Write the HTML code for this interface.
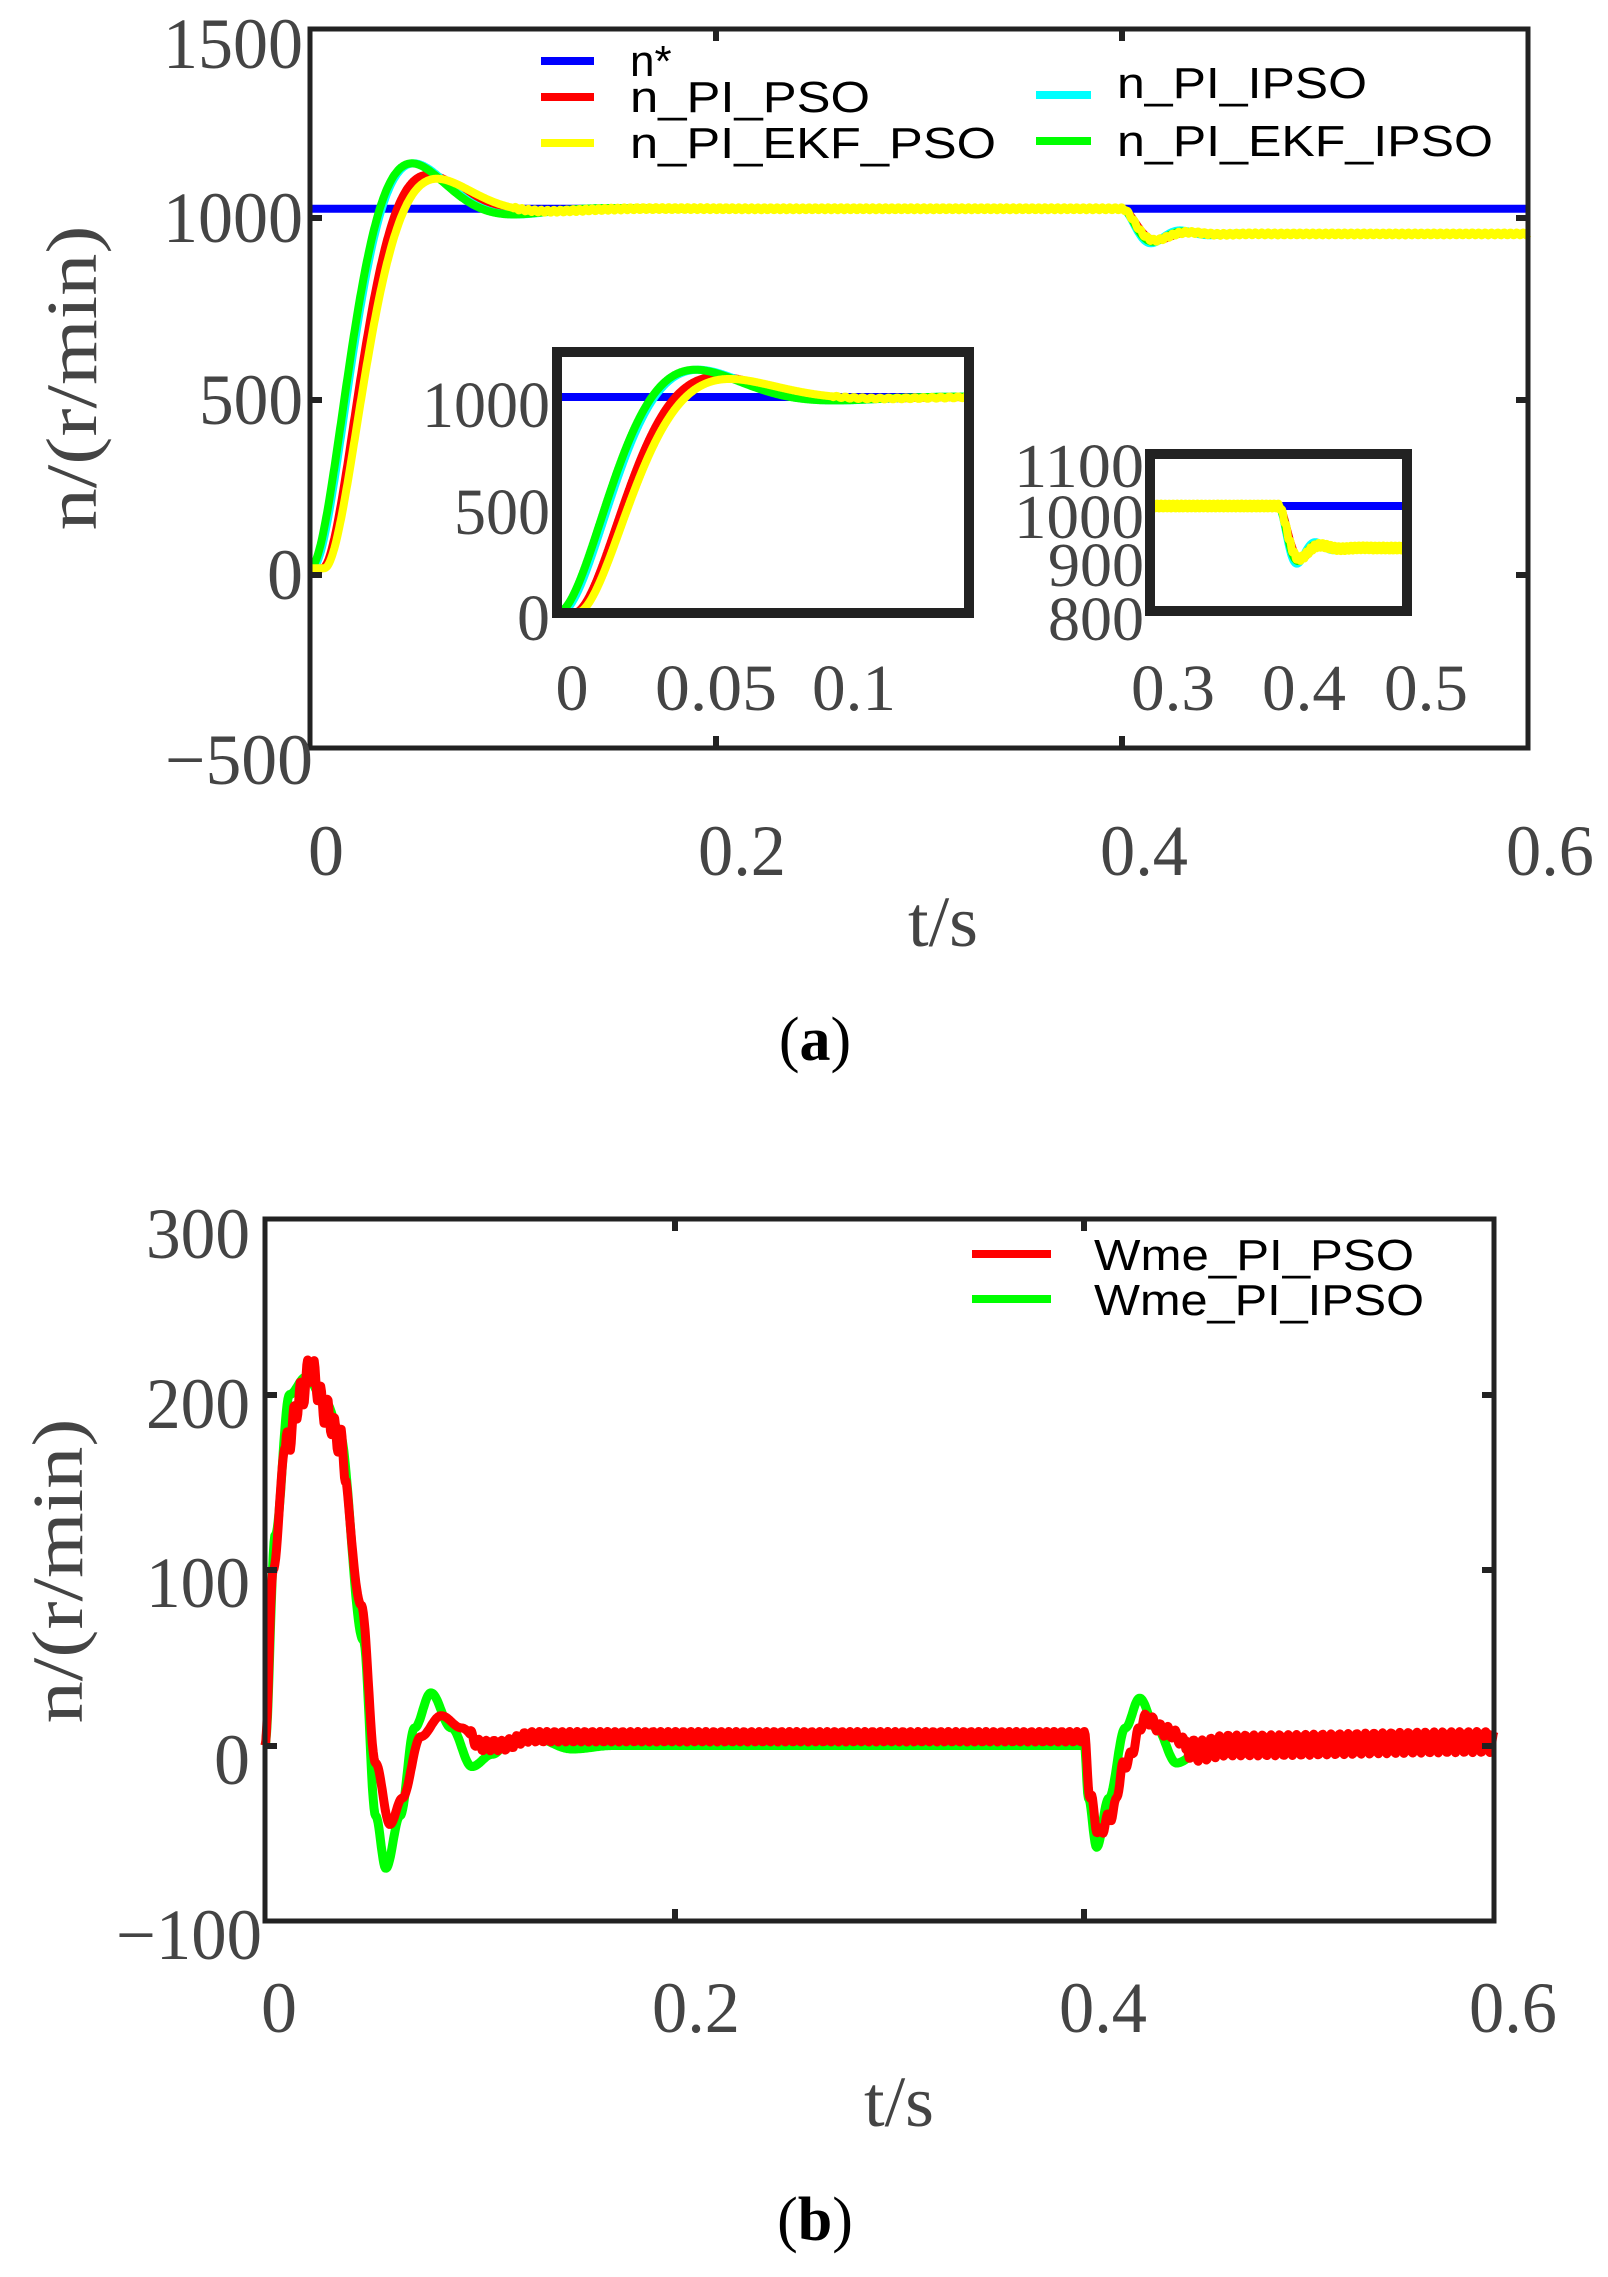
<!DOCTYPE html>
<html><head><meta charset="utf-8"><style>
html,body{margin:0;padding:0;background:#fff;}
svg{display:block;}
.t{font-family:"Liberation Serif",serif;fill:#444;}
.l{font-family:"Liberation Sans",sans-serif;fill:#000;}
</style></head><body>
<svg id="s" width="1608" height="2277" viewBox="0 0 1608 2277" xmlns="http://www.w3.org/2000/svg">
<rect width="1608" height="2277" fill="#fff"/>
<g id="a"></g>
<rect x="310" y="29" width="1218" height="719" fill="none" stroke="#222" stroke-width="5"/>
<g stroke="#222" stroke-width="6">
<line x1="310" y1="400" x2="322" y2="400"/><line x1="1516" y1="400" x2="1528" y2="400"/>
<line x1="310" y1="218" x2="322" y2="218"/><line x1="1516" y1="218" x2="1528" y2="218"/>
<line x1="310" y1="575" x2="322" y2="575"/><line x1="1516" y1="575" x2="1528" y2="575"/>
<line x1="716" y1="29" x2="716" y2="41"/><line x1="716" y1="736" x2="716" y2="748"/>
<line x1="1122" y1="29" x2="1122" y2="41"/><line x1="1122" y1="736" x2="1122" y2="748"/>
</g>
<g class="t" font-size="72" text-anchor="end">
<text x="303" y="68" textLength="140" lengthAdjust="spacingAndGlyphs">1500</text>
<text x="303" y="242" textLength="140" lengthAdjust="spacingAndGlyphs">1000</text>
<text x="303" y="424" textLength="104" lengthAdjust="spacingAndGlyphs">500</text>
<text x="303" y="599" textLength="36" lengthAdjust="spacingAndGlyphs">0</text>
<text x="313" y="784" textLength="148" lengthAdjust="spacingAndGlyphs">−500</text>
</g>
<g class="t" font-size="72" text-anchor="middle">
<text x="326" y="875">0</text>
<text x="742" y="875" textLength="88" lengthAdjust="spacingAndGlyphs">0.2</text>
<text x="1144" y="875" textLength="88" lengthAdjust="spacingAndGlyphs">0.4</text>
<text x="1550" y="875" textLength="88" lengthAdjust="spacingAndGlyphs">0.6</text>
<text x="943" y="946" textLength="70" lengthAdjust="spacingAndGlyphs">t/s</text>
<text x="815" y="1060" font-size="62" fill="#000">(<tspan font-weight="bold">a</tspan>)</text>
<text transform="translate(96,378) rotate(-90)" textLength="305" lengthAdjust="spacingAndGlyphs">n/(r/min)</text>
</g>
<g stroke-width="8">
<line x1="541" y1="61" x2="594" y2="61" stroke="#0000ff"/>
<line x1="541" y1="97" x2="594" y2="97" stroke="#ff0000"/>
<line x1="541" y1="143" x2="594" y2="143" stroke="#ffff00"/>
<line x1="1036" y1="95" x2="1091" y2="95" stroke="#00ffff"/>
<line x1="1036" y1="141" x2="1091" y2="141" stroke="#00ff00"/>
</g>
<g class="l" font-size="44">
<text x="630" y="76">n*</text>
<text x="630" y="112" textLength="240" lengthAdjust="spacingAndGlyphs">n_PI_PSO</text>
<text x="630" y="158" textLength="366" lengthAdjust="spacingAndGlyphs">n_PI_EKF_PSO</text>
<text x="1117" y="98" textLength="250" lengthAdjust="spacingAndGlyphs">n_PI_IPSO</text>
<text x="1117" y="156" textLength="376" lengthAdjust="spacingAndGlyphs">n_PI_EKF_IPSO</text>
</g>
<rect x="557" y="352" width="412" height="261" fill="#fff"/>
<g id="i1"></g>
<rect x="557" y="352" width="412" height="261" fill="none" stroke="#222" stroke-width="10"/>
<g class="t" font-size="66" text-anchor="end">
<text x="550" y="427" textLength="128" lengthAdjust="spacingAndGlyphs">1000</text>
<text x="550" y="534" textLength="96" lengthAdjust="spacingAndGlyphs">500</text>
<text x="550" y="640">0</text>
</g>
<g class="t" font-size="66" text-anchor="middle">
<text x="572" y="710">0</text>
<text x="716" y="710" textLength="122" lengthAdjust="spacingAndGlyphs">0.05</text>
<text x="854" y="710" textLength="84" lengthAdjust="spacingAndGlyphs">0.1</text>
</g>
<rect x="1150" y="454" width="257" height="157" fill="#fff"/>
<g id="i2"></g>
<rect x="1150" y="454" width="257" height="157" fill="none" stroke="#222" stroke-width="10"/>
<g class="t" font-size="62" text-anchor="end">
<text x="1144" y="487" textLength="130" lengthAdjust="spacingAndGlyphs">1100</text>
<text x="1144" y="538" textLength="130" lengthAdjust="spacingAndGlyphs">1000</text>
<text x="1144" y="586" textLength="96" lengthAdjust="spacingAndGlyphs">900</text>
<text x="1144" y="640" textLength="96" lengthAdjust="spacingAndGlyphs">800</text>
</g>
<g class="t" font-size="66" text-anchor="middle">
<text x="1173" y="710" textLength="84" lengthAdjust="spacingAndGlyphs">0.3</text>
<text x="1304" y="710" textLength="84" lengthAdjust="spacingAndGlyphs">0.4</text>
<text x="1426" y="710" textLength="84" lengthAdjust="spacingAndGlyphs">0.5</text>
</g>

<g id="b"></g>
<rect x="265" y="1219" width="1229" height="702" fill="none" stroke="#222" stroke-width="5"/>
<g stroke="#222" stroke-width="6">
<line x1="265" y1="1395" x2="277" y2="1395"/><line x1="1482" y1="1395" x2="1494" y2="1395"/>
<line x1="265" y1="1570" x2="277" y2="1570"/><line x1="1482" y1="1570" x2="1494" y2="1570"/>
<line x1="265" y1="1746" x2="277" y2="1746"/><line x1="1482" y1="1746" x2="1494" y2="1746"/>
<line x1="675" y1="1219" x2="675" y2="1231"/><line x1="675" y1="1909" x2="675" y2="1921"/>
<line x1="1084" y1="1219" x2="1084" y2="1231"/><line x1="1084" y1="1909" x2="1084" y2="1921"/>
</g>
<g class="t" font-size="72" text-anchor="end">
<text x="250" y="1258" textLength="104" lengthAdjust="spacingAndGlyphs">300</text>
<text x="250" y="1428" textLength="104" lengthAdjust="spacingAndGlyphs">200</text>
<text x="250" y="1607" textLength="104" lengthAdjust="spacingAndGlyphs">100</text>
<text x="250" y="1784">0</text>
<text x="262" y="1959" textLength="146" lengthAdjust="spacingAndGlyphs">−100</text>
</g>
<g class="t" font-size="72" text-anchor="middle">
<text x="279" y="2032">0</text>
<text x="696" y="2032" textLength="88" lengthAdjust="spacingAndGlyphs">0.2</text>
<text x="1103" y="2032" textLength="88" lengthAdjust="spacingAndGlyphs">0.4</text>
<text x="1513" y="2032" textLength="88" lengthAdjust="spacingAndGlyphs">0.6</text>
<text x="899" y="2126" textLength="70" lengthAdjust="spacingAndGlyphs">t/s</text>
<text x="815" y="2240" font-size="62" fill="#000">(<tspan font-weight="bold">b</tspan>)</text>
<text transform="translate(82,1571) rotate(-90)" textLength="305" lengthAdjust="spacingAndGlyphs">n/(r/min)</text>
</g>
<g stroke-width="8">
<line x1="972" y1="1254" x2="1051" y2="1254" stroke="#ff0000"/>
<line x1="972" y1="1299" x2="1051" y2="1299" stroke="#00ff00"/>
</g>
<g class="l" font-size="44">
<text x="1094" y="1270" textLength="320" lengthAdjust="spacingAndGlyphs">Wme_PI_PSO</text>
<text x="1094" y="1315" textLength="330" lengthAdjust="spacingAndGlyphs">Wme_PI_IPSO</text>
</g>
</svg>
<script>
function st(tau,wn,z){if(tau<=0)return 0;var r=Math.sqrt(1-z*z),wd=wn*r;return 1-Math.exp(-z*wn*tau)*(Math.cos(wd*tau)+z/r*Math.sin(wd*tau));}
var P={g:[0,75,0.55,220,0.35],c:[0.001,75,0.55,230,0.3],r:[0.006,75,0.6,200,0.4],y:[0.007,72,0.62,210,0.4]};
function n(k,t){var p=P[k];return 1000*st(t-p[0],p[1],p[2])-70*st(t-0.4,p[3],p[4])+(k=='y'&&t>0.1?4*Math.sin(t*2000):0);}
var col={b:'#0000ff',r:'#ff0000',y:'#ffff00',c:'#00ffff',g:'#00ff00'};
function path(g,f,t0,t1,X,Y,c,w){var d='';for(var i=0;i<=1500;i++){var t=t0+(t1-t0)*i/1500;d+=(i?'L':'M')+X(t).toFixed(1)+' '+Y(f(t)).toFixed(1);}
var e=document.createElementNS('http://www.w3.org/2000/svg','path');e.setAttribute('d',d);e.setAttribute('fill','none');e.setAttribute('stroke',c);e.setAttribute('stroke-width',w);e.setAttribute('stroke-linejoin','round');document.getElementById(g).appendChild(e);}
function ser(g,t0,t1,X,Y,w){path(g,function(){return 1000},t0,t1,X,Y,col.b,w);
['r','c','g','y'].forEach(function(k){path(g,function(t){return n(k,t)},t0,t1,X,Y,col[k],w);});}
ser('a',0,0.6,function(t){return 310+t/0.6*1218},function(v){return 29+(1500-v)/2000*719},8);
ser('i1',0,0.149,function(t){return 557+t/0.05*138},function(v){return 613-v*0.216},8);
ser('i2',0.3,0.5,function(t){return 1150+(t-0.3)/0.2*257},function(v){return 506-(v-1000)*0.6},8);
function kp(pts){return function(t){for(var i=1;i<pts.length;i++){if(t<=pts[i][0]){var a=pts[i-1],b=pts[i],u=(t-a[0])/(b[0]-a[0]);u=(1-Math.cos(Math.PI*u))/2;return a[1]+(b[1]-a[1])*u;}}return pts[pts.length-1][1];};}
var G=kp([[0,0],[0.005,120],[0.012,200],[0.02,210],[0.03,195],[0.036,180],[0.048,60],[0.054,-40],[0.059,-70],[0.066,-40],[0.073,10],[0.081,30],[0.091,10],[0.101,-12],[0.111,-5],[0.12,3],[0.13,5],[0.15,-2],[0.17,0],[0.4,0],[0.402,-30],[0.406,-58],[0.412,-30],[0.42,10],[0.427,27],[0.435,10],[0.445,-10],[0.455,-5],[0.47,2],[0.6,0]]);
var R0=kp([[0,0],[0.004,100],[0.01,170],[0.018,200],[0.022,215],[0.03,190],[0.036,175],[0.047,80],[0.054,-10],[0.061,-45],[0.067,-30],[0.076,5],[0.086,17],[0.096,10],[0.106,0],[0.115,0],[0.13,5],[0.4,5],[0.403,-30],[0.407,-50],[0.413,-40],[0.42,-10],[0.43,15],[0.44,8],[0.455,-3],[0.47,0],[0.6,2]]);
function R(t){var a=0;if(t>0.01&&t<0.04)a=8*Math.sin(t*1900);else if(t>0.1&&t<0.45)a=3*Math.sin(t*1700);else if(t>=0.45)a=6*Math.sin(t*1500);return R0(t)+a;}
var XB=function(t){return 265+t/0.6*1229},YB=function(v){return 1219+(300-v)/400*702};
path('b',G,0,0.6,XB,YB,col.g,9);path('b',R,0,0.6,XB,YB,col.r,9);
</script>
</body></html>
